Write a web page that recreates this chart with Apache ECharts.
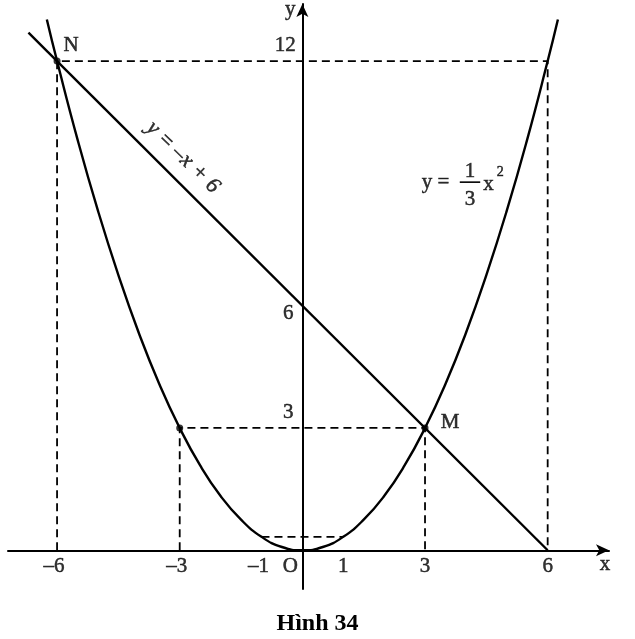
<html>
<head>
<meta charset="utf-8">
<script src="https://cdn.jsdelivr.net/npm/echarts/dist/echarts.min.js"></script>
<style>
  html, body { margin: 0; padding: 0; background: #fff; }
  #main { width: 635px; height: 639px; }
</style>
</head>
<body>
<div id="main"></div>
<script>
// y = x^2 / 3
var parabolaX = [-6.25, -6, -5.5, -5, -4.5, -4, -3.5, -3, -2.5, -2, -1.5, -1, -0.5, 0,
                 0.5, 1, 1.5, 2, 2.5, 3, 3.5, 4, 4.5, 5, 5.5, 6, 6.25];
var parabolaY = [13.02, 12, 10.08, 8.33, 6.75, 5.33, 4.08, 3, 2.08, 1.33, 0.75, 0.33, 0.08, 0,
                 0.08, 0.33, 0.75, 1.33, 2.08, 3, 4.08, 5.33, 6.75, 8.33, 10.08, 12, 13.02];
// y = -x + 6
var lineX = [-6.7, 6];
var lineY = [12.7, 0];
// marked points N, (-3, 3), M
var pointX = [-6, -3, 3];
var pointY = [12, 3, 3];
// dashed guides
var guideN = [[-6, 0], [-6, 12], [6, 12], [6, 0]];
var guide3 = [[-3, 0], [-3, 3], [3, 3], [3, 0]];
var guide1 = [[-1, 0.33], [1, 0.33]];
// tick labels
var xTicks = [-6, -3, -1, 1, 3, 6];
var xTickText = ['\u20136', '\u20133', '\u20131', '1', '3', '6'];
var yTicks = [12, 6, 3];
var yTickText = ['12', '6', '3'];

var FONT = "'Liberation Serif', 'DejaVu Serif', serif";
var INK = '#000';

function zip(xs, ys) {
    var out = [];
    for (var i = 0; i < xs.length; i++) {
        out.push([xs[i], ys[i]]);
    }
    return out;
}

function curve(data, width, dashed, smooth) {
    return {
        type: 'line',
        data: data,
        smooth: smooth || false,
        showSymbol: false,
        symbol: 'none',
        silent: true,
        animation: false,
        clip: false,
        z: 3,
        lineStyle: {
            color: INK,
            width: width,
            type: dashed ? [8, 5] : 'solid'
        }
    };
}

// a scatter with no symbol, just used to hang text on data positions
function texts(items) {
    return {
        type: 'scatter',
        symbolSize: 0,
        silent: true,
        animation: false,
        z: 2,
        itemStyle: {color: 'rgba(0,0,0,0)'},
        data: items.map(function (it) {
            return {
                name: it.text,
                value: it.at,
                label: {
                    show: true,
                    position: 'inside',
                    formatter: '{b}',
                    offset: it.offset || [0, 0],
                    rotate: it.rotate || 0,
                    fontFamily: FONT,
                    fontSize: it.size || 21,
                    fontStyle: it.italic ? 'italic' : 'normal',
                    color: INK,
                    // a hairline stroke so the glyphs look as dark as the print
                    textBorderColor: INK,
                    textBorderWidth: 0.5,
                    textShadowBlur: 0
                }
            };
        })
    };
}

var chart = echarts.init(document.getElementById('main'), null, {renderer: 'canvas'});

var yOffsets = [[-17, -16], [-14, 8], [-14, -15]];
var tickItems = [];
xTicks.forEach(function (v, i) {
    tickItems.push({text: xTickText[i], at: [v, 0], offset: [v < 0 ? -3 : 0, 16]});
});
yTicks.forEach(function (v, i) {
    tickItems.push({text: yTickText[i], at: [0, v], offset: yOffsets[i]});
});
tickItems.push({text: 'O', at: [0, 0], offset: [-12, 16]});
tickItems.push({text: 'x', at: [7.4, 0], offset: [0, 14]});
tickItems.push({text: 'y', at: [0, 13.4], offset: [-12, 5]});
tickItems.push({text: 'N', at: [pointX[0], pointY[0]], offset: [14, -16]});
tickItems.push({text: 'M', at: [pointX[2], pointY[2]], offset: [25, -5]});

var formulaItems = [
    {text: 'y = \u2013x + 6', at: [-2.92, 9.64], rotate: -44, italic: true, size: 22},
    {text: 'y =', at: [3.26, 9.03]},
    {text: '1', at: [4.1, 9.3]},
    {text: '3', at: [4.1, 8.6]},
    {text: 'x', at: [4.55, 8.98]},
    {text: '2', at: [4.84, 9.28], size: 14}
];

chart.setOption({
    animation: false,
    title: {
        text: 'Hình 34',
        left: 'center',
        top: 607,
        textStyle: {fontFamily: FONT, fontSize: 24, fontWeight: 'bold', color: INK}
    },
    grid: {left: 8, right: 26, top: 4, bottom: 50},
    xAxis: {
        type: 'value',
        min: -7.2,
        max: 7.5,
        splitLine: {show: false},
        axisTick: {show: false},
        axisLabel: {show: false},
        axisLine: {
            onZero: true,
            symbol: ['none', 'arrow'],
            symbolSize: [9, 13],
            lineStyle: {color: INK, width: 2}
        }
    },
    yAxis: {
        type: 'value',
        min: -0.95,
        max: 13.4,
        splitLine: {show: false},
        axisTick: {show: false},
        axisLabel: {show: false},
        axisLine: {
            onZero: true,
            symbol: ['none', 'arrow'],
            symbolSize: [9, 13],
            lineStyle: {color: INK, width: 2}
        }
    },
    series: [
        curve(guideN, 1.8, true),
        curve(guide3, 1.8, true),
        curve(guide1, 1.8, true),
        curve(zip(parabolaX, parabolaY), 2.4, false, true),
        curve(zip(lineX, lineY), 2.4, false),
        // fraction bar of 1/3
        curve([[3.85, 9.03], [4.35, 9.03]], 1.6, false),
        {
            type: 'scatter',
            data: zip(pointX, pointY),
            symbolSize: 7,
            silent: true,
            animation: false,
            z: 4,
            itemStyle: {color: INK}
        },
        texts(tickItems),
        texts(formulaItems)
    ]
});
</script>
</body>
</html>
